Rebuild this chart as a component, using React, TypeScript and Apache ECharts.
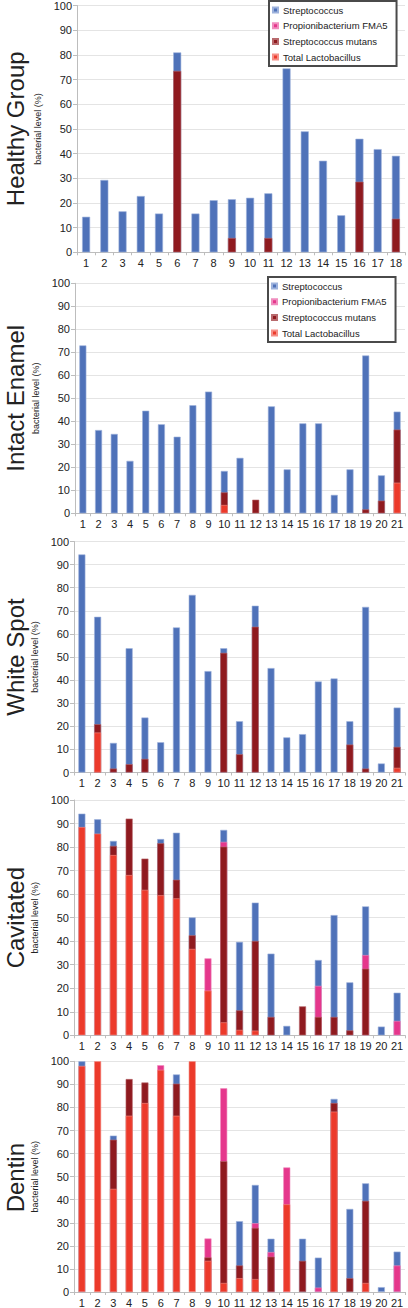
import React, { useEffect, useRef } from "react";
import * as echarts from "echarts";

// ---- categories ----
const cats18 = ["1","2","3","4","5","6","7","8","9","10","11","12","13","14","15","16","17","18"];
const cats21 = ["1","2","3","4","5","6","7","8","9","10","11","12","13","14","15","16","17","18","19","20","21"];

const seriesNames = ["Streptococcus", "Propionibacterium FMA5", "Streptococcus mutans", "Total Lactobacillus"];
const panelTitles = ["Healthy Group", "Intact Enamel", "White Spot", "Cavitated", "Dentin"];

const n = null;

// ---- bar tops (%) : Healthy Group ----
const healthyStrep = [14.4, 29.3, 16.6, 22.8, 15.7, 81.0, 15.7, 21.1, 21.5, 22.1, 23.9, 74.5, 49.0, 37.1, 15.0, 46.0, 41.8, 39.1];
const healthyFma5 = [n, n, n, n, n, n, n, n, n, n, n, n, n, n, n, n, n, n];
const healthyMutans = [n, n, n, n, n, 73.5, n, n, 5.8, n, 5.8, n, n, n, n, 28.6, n, 13.6];
const healthyLacto = [n, n, n, n, n, n, n, n, n, n, n, n, n, n, n, n, n, n];

// ---- Intact Enamel ----
const intactStrep = [73.0, 36.2, 34.5, 22.8, 44.6, 38.7, 33.3, 47.0, 52.9, 18.4, 24.1, n, 46.5, 19.1, 39.1, 39.1, 8.0, 19.1, 68.6, 16.5, 44.2];
const intactFma5 = [n, n, n, n, n, n, n, n, n, n, n, n, n, n, n, n, n, n, n, n, n];
const intactMutans = [n, n, n, n, n, n, n, n, n, 9.1, n, 5.9, n, n, n, n, n, n, 1.7, 5.5, 36.4];
const intactLacto = [n, n, n, n, n, n, n, n, n, 3.6, n, n, n, n, n, n, n, n, n, n, 13.3];

// ---- White Spot ----
const whiteStrep = [94.4, 67.4, 12.8, 53.8, 23.8, 13.1, 62.8, 76.9, 43.9, 53.8, 22.2, 72.2, 45.2, 15.2, 16.6, 39.4, 40.7, 22.2, 71.7, 3.9, 28.1];
const whiteFma5 = [n, n, n, n, n, n, n, n, n, n, n, n, n, n, n, n, n, n, n, n, n];
const whiteMutans = [n, 20.9, 1.7, 3.6, 5.9, n, n, n, n, 51.8, 7.9, 63.1, n, n, n, n, n, 12.1, 1.7, n, 11.1];
const whiteLacto = [n, 17.3, n, n, n, n, n, n, n, n, n, n, n, n, n, n, n, n, n, n, 2.0];

// ---- Cavitated ----
const cavStrep = [94.2, 91.8, 82.6, n, n, 83.4, 86.1, 50.1, n, 87.3, 39.7, 56.4, 34.7, 4.0, n, 32.0, 51.1, 22.5, 54.8, 3.7, 18.1];
const cavFma5 = [n, n, n, n, n, n, n, n, 32.7, 82.2, n, n, n, n, n, 21.0, n, n, 34.1, n, 6.1];
const cavMutans = [n, n, 80.5, 92.1, 75.1, 81.6, 66.1, 42.5, n, 80.2, 10.6, 40.1, 7.8, n, 12.3, 7.8, 7.8, 2.1, 28.3, n, n];
const cavLacto = [88.5, 85.7, 76.6, 68.1, 61.8, 59.5, 58.2, 36.7, 19.0, 5.5, 2.3, 2.0, n, n, n, n, n, n, n, n, n];

// ---- Dentin ----
const dentinStrep = [100, n, 67.8, n, n, n, 94.3, n, n, n, 30.7, 46.4, 23.1, n, 23.1, 14.9, 83.7, 36.0, 47.1, 2.1, 17.5];
const dentinFma5 = [n, n, n, n, n, 98.3, n, n, 23.2, 88.3, n, 29.8, 17.3, 54.0, n, 1.9, n, n, n, n, 11.5];
const dentinMutans = [n, n, 66.0, 92.3, 90.8, n, 90.3, n, 15.0, 56.7, 11.5, 27.8, 15.3, n, 13.5, n, 81.9, 6.0, 39.5, n, n];
const dentinLacto = [98.0, 100, 44.7, 76.4, 81.9, 96.3, 76.4, 100, 13.5, 3.9, 6.0, 5.6, n, 38.0, n, n, 78.2, n, 3.9, n, n];

const panelData = [
  { cats: cats18, values: [healthyStrep, healthyFma5, healthyMutans, healthyLacto] },
  { cats: cats21, values: [intactStrep, intactFma5, intactMutans, intactLacto] },
  { cats: cats21, values: [whiteStrep, whiteFma5, whiteMutans, whiteLacto] },
  { cats: cats21, values: [cavStrep, cavFma5, cavMutans, cavLacto] },
  { cats: cats21, values: [dentinStrep, dentinFma5, dentinMutans, dentinLacto] },
];

// ---- layout & style (not data) ----
const FONT = '"Liberation Sans", Arial, Helvetica, sans-serif';
const COLORS = ["#4F72B9", "#E5378C", "#8F1A1F", "#EC3A2B"];
const BORDERS = ["#9DB2DC", "#F08DBE", "#B86A6D", "#F59088"];
const layout = [
  { top: 5.3, height: 247, left: 77, barWidth: 8, legend: { left: 269, top: 1 } },
  { top: 283.3, height: 230, left: 75, barWidth: 7, legend: { left: 268, top: 277 } },
  { top: 541.5, height: 231, left: 74, barWidth: 7, legend: null },
  { top: 800, height: 235.3, left: 74, barWidth: 7, legend: null },
  { top: 1061.3, height: 232.7, left: 74, barWidth: 7, legend: null },
];

function buildOption() {
  const grid: any[] = [];
  const xAxis: any[] = [];
  const yAxis: any[] = [];
  const series: any[] = [];
  const legend: any[] = [];
  const graphic: any[] = [];

  panelData.forEach((p, i) => {
    const L = layout[i];
    grid.push({ left: L.left, top: L.top, height: L.height, right: 3, containLabel: false });
    xAxis.push({
      type: "category",
      gridIndex: i,
      data: p.cats,
      boundaryGap: true,
      axisLine: { show: true, lineStyle: { color: "#BDBDBD", width: 1 } },
      axisTick: { show: true, length: 3, lineStyle: { color: "#BDBDBD" } },
      axisLabel: { color: "#222", fontSize: 11, margin: 5, interval: 0, fontFamily: FONT },
      splitLine: { show: false },
    });
    yAxis.push({
      type: "value",
      gridIndex: i,
      min: 0,
      max: 100,
      interval: 10,
      name: "bacterial level (%)",
      nameLocation: "middle",
      nameGap: 28,
      nameTextStyle: { fontSize: 9, color: "#222", fontFamily: FONT },
      axisLine: { show: true, lineStyle: { color: "#BDBDBD", width: 1 } },
      axisTick: { show: true, length: 4, lineStyle: { color: "#BDBDBD" } },
      axisLabel: { color: "#222", fontSize: 11, margin: 5, fontFamily: FONT },
      splitLine: { show: true, lineStyle: { color: "#E4E4E4", width: 1 } },
    });
    p.values.forEach((vals, s) => {
      series.push({
        name: seriesNames[s],
        type: "bar",
        xAxisIndex: i,
        yAxisIndex: i,
        data: vals,
        barWidth: L.barWidth,
        barGap: "-100%",
        itemStyle: { color: COLORS[s], borderColor: BORDERS[s], borderWidth: 0.6 },
        emphasis: { disabled: true },
      });
    });
    if (L.legend) {
      legend.push({
        data: seriesNames,
        orient: "vertical",
        left: L.legend.left,
        top: L.legend.top,
        icon: "rect",
        itemWidth: 5,
        itemHeight: 5,
        itemGap: 3.7,
        padding: [3, 9, 3, 3],
        backgroundColor: "#fff",
        borderColor: "#4A4A4A",
        borderWidth: 2,
        selectedMode: false,
        textStyle: { fontSize: 9.5, color: "#222", fontFamily: FONT, lineHeight: 12 },
      });
    }
    graphic.push({
      type: "text",
      x: 15,
      y: L.top + L.height / 2,
      rotation: Math.PI / 2,
      style: {
        text: panelTitles[i],
        fontSize: 24,
        fontFamily: FONT,
        fill: "#222",
        align: "center",
        verticalAlign: "middle",
      },
    });
  });

  return {
    animation: false,
    backgroundColor: "#fff",
    grid,
    xAxis,
    yAxis,
    series,
    legend,
    graphic,
  };
}

export default function App() {
  const ref = useRef<HTMLDivElement>(null);
  useEffect(() => {
    if (!ref.current) return;
    const chart = echarts.init(ref.current, undefined, { renderer: "svg" });
    chart.setOption(buildOption());
    return () => chart.dispose();
  }, []);
  return (
    <div
      ref={ref}
      style={{ position: "absolute", left: 0, top: 0, width: 408, height: 1308, background: "#fff" }}
    />
  );
}
